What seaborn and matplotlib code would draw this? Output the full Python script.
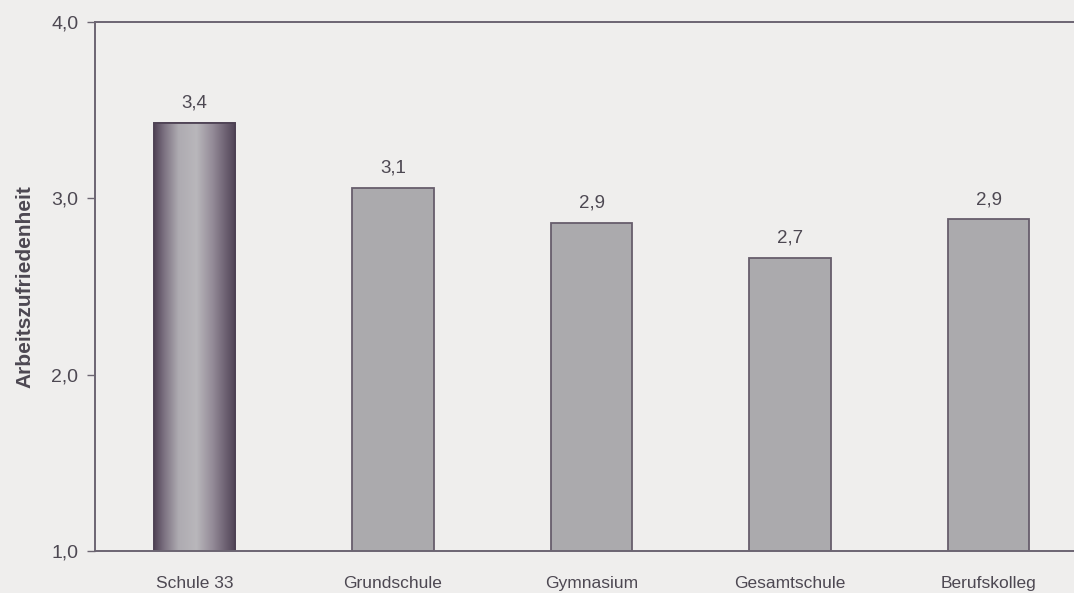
import numpy as np
import pandas as pd
import matplotlib
matplotlib.use("Agg")
import matplotlib.pyplot as plt
from matplotlib.colors import LinearSegmentedColormap
import seaborn as sns

# Data
categories = ["Schule 33", "Grundschule", "Gymnasium", "Gesamtschule", "Berufskolleg"]
values = [3.43, 3.06, 2.86, 2.66, 2.88]
y_ticks = [1.0, 2.0, 3.0, 4.0]
y_label = "Arbeitszufriedenheit"

paper = "#efeeed"
ink = "#4d4852"
spine_col = "#6c6572"
bar_fill = "#abaaad"
bar_edge = "#675d6c"

sns.set_theme(style="white")
plt.rcParams["font.family"] = ["Liberation Sans", "DejaVu Sans"]

fig = plt.figure(figsize=(10.74, 5.93), dpi=100, facecolor=paper)
ax = fig.add_axes([95 / 1074, 1 - 551 / 593, 993 / 1074, 529 / 593])
ax.set_facecolor(paper)

df = pd.DataFrame({"Schule": categories, "Wert": values})
sns.barplot(data=df, x="Schule", y="Wert", ax=ax, width=0.41,
            color=bar_fill, edgecolor=bar_edge, linewidth=1.3,
            saturation=1, errorbar=None)

ax.set_xlim(-0.5, len(categories) - 0.5)
ax.set_ylim(1.0, 4.0)

# Horizontal shading on the first bar
grad_cmap = LinearSegmentedColormap.from_list(
    "shade",
    [(0.0, "#4f4255"), (0.12, "#7b7080"), (0.3, "#aeabb1"), (0.52, "#b9b7bb"),
     (0.72, "#938a97"), (0.88, "#6c6071"), (1.0, "#4f4255")])
first = ax.patches[0]
x0 = first.get_x()
w = first.get_width()
grad = np.linspace(0, 1, 256).reshape(1, -1)
img = ax.imshow(grad, cmap=grad_cmap, aspect="auto",
                extent=[x0, x0 + w, 1.0, values[0]], zorder=first.get_zorder() + 0.1)
img.set_clip_path(first)
ax.add_patch(plt.Rectangle((x0, 0), w, values[0], fill=False,
                           edgecolor="#4e4254", linewidth=1.3,
                           zorder=first.get_zorder() + 0.2))

# Value labels
for i, v in enumerate(values):
    ax.text(i, v + 0.065, f"{v:.1f}".replace(".", ","), ha="center", va="bottom",
            fontsize=13.5, color=ink)

# Axes styling
ax.set_yticks(y_ticks)
ax.set_yticklabels([f"{t:.1f}".replace(".", ",") for t in y_ticks],
                   fontsize=14, color=ink)
ax.set_xticks(range(len(categories)))
ax.set_xticklabels(categories, fontsize=12.5, color=ink)
ax.set_xticks(np.arange(0.5, len(categories) - 0.5, 1.0), minor=True)
ax.tick_params(axis="x", which="major", length=0, pad=18)
ax.tick_params(axis="x", which="minor", length=5, width=1, color=spine_col,
               direction="out")
ax.tick_params(axis="y", which="major", length=6, width=1, color=spine_col,
               direction="out", pad=6, left=True)
ax.set_xlabel("")
ax.set_ylabel(y_label, fontsize=15, fontweight="bold", color=ink, labelpad=12)

for side in ["left", "bottom", "top"]:
    ax.spines[side].set_visible(True)
    ax.spines[side].set_color(spine_col)
    ax.spines[side].set_linewidth(1.4)
ax.spines["right"].set_visible(False)

fig.savefig("out.png", dpi=100, facecolor=paper)
